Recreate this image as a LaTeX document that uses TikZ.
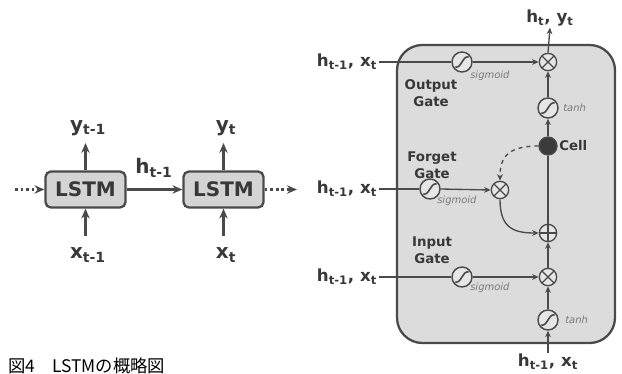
\documentclass[tikz,border=0pt]{standalone}
\usepackage{fontspec}
\usepackage{xcolor}
\usepackage{tikz}
\usetikzlibrary{arrows.meta,positioning}
\newfontfamily\dvfont{DejaVu Sans}
\newfontfamily\jpfont{Noto Sans CJK JP}
\definecolor{linec}{HTML}{4A4A4A}
\definecolor{cellbg}{HTML}{DCDCDC}
\definecolor{lstmbg}{HTML}{D4D4D4}
\definecolor{txtc}{HTML}{383838}
\definecolor{fnc}{HTML}{7A7A7A}
\definecolor{opbg}{HTML}{E6E6E6}
\tikzset{
  ar/.style={-{Stealth[length=2.6mm,width=2.2mm]},line width=1.7pt,linec},
  thinar/.style={-{Stealth[length=1.7mm,width=1.5mm]},line width=1pt,linec},
  thinln/.style={line width=1pt,linec},
  lstm/.style={draw=linec,line width=1.7pt,rounded corners=4pt,fill=lstmbg,
    minimum width=60pt,minimum height=27pt,inner sep=0pt,text=txtc,
    font=\dvfont\bfseries\fontsize{15}{17}\selectfont},
  bigl/.style={text=txtc,inner sep=1pt,font=\dvfont\bfseries\fontsize{15}{17}\selectfont},
  rowl/.style={text=txtc,inner sep=1pt,font=\dvfont\bfseries\fontsize{12.5}{14}\selectfont},
  gatel/.style={text=txtc,align=center,inner sep=0pt,font=\dvfont\bfseries\fontsize{10}{12.5}\selectfont},
  fnl/.style={text=fnc,inner sep=0pt,font=\dvfont\itshape\fontsize{7.5}{9}\selectfont},
  mul/.style={circle,draw=linec,line width=1pt,fill=opbg,minimum size=13pt,inner sep=0pt,
    path picture={\draw[linec,line width=0.9pt]
      (path picture bounding box.south west) -- (path picture bounding box.north east)
      (path picture bounding box.north west) -- (path picture bounding box.south east);}},
  addn/.style={circle,draw=linec,line width=1pt,fill=opbg,minimum size=13pt,inner sep=0pt,
    path picture={\draw[linec,line width=0.9pt]
      (path picture bounding box.south) -- (path picture bounding box.north)
      (path picture bounding box.west) -- (path picture bounding box.east);}},
  sig/.style={circle,draw=linec,line width=1.1pt,fill=opbg,minimum size=15pt,inner sep=0pt,
    path picture={\draw[linec,line width=1.2pt]
      ([xshift=-5pt,yshift=-4pt]path picture bounding box.center)
      .. controls +(5.5pt,0) and +(-5.5pt,0) ..
      ([xshift=5pt,yshift=4pt]path picture bounding box.center);}},
  cellc/.style={circle,draw=linec,line width=1pt,fill=linec!80!black,minimum size=13.5pt,inner sep=0pt}
}

\begin{document}
\begin{tikzpicture}[x=0.75pt,y=-0.75pt]
\useasboundingbox (0,0) rectangle (622,374);
% unrolled chain
\node[lstm] (l1) at (85.5,189.5) {LSTM};
\node[lstm] (l2) at (223.5,189.5) {LSTM};
\coordinate (din) at (15,189.5);
\coordinate (dout) at (297,189.5);
\node[bigl] (y1) at (88,128) {y\textsubscript{t-1}};
\node[bigl] (y2) at (226,128) {y\textsubscript{t}};
\node[bigl] (x1) at (88,255) {x\textsubscript{t-1}};
\node[bigl] (x2) at (226,255) {x\textsubscript{t}};
\node[bigl] (h1) at (154,168) {h\textsubscript{t-1}};
\draw[ar,dash pattern=on 2pt off 2.2pt] (din) -- (l1.west);
\draw[ar,dash pattern=on 2pt off 2.2pt] (l2.east) -- (dout);
\draw[ar] (l1.east) -- (l2.west);
\draw[ar] (l1.north) -- (85.5,143);
\draw[ar] (l2.north) -- (223.5,143);
\draw[ar] (85.5,236) -- (l1.south);
\draw[ar] (223.5,236) -- (l2.south);
% cell block
\draw[line width=1.7pt,linec,fill=cellbg,rounded corners=19pt] (397,45) rectangle (615,343);
\node[gatel] (go) at (431,93) {Output\\Gate};
\node[gatel] (gf) at (432,165) {Forget\\Gate};
\node[gatel] (gi) at (432,250) {Input\\Gate};
\node[rowl] (r1) at (347,62) {h\textsubscript{t-1}, x\textsubscript{t}};
\node[rowl] (r2) at (347,189) {h\textsubscript{t-1}, x\textsubscript{t}};
\node[rowl] (r3) at (347,277) {h\textsubscript{t-1}, x\textsubscript{t}};
\node[rowl] (top) at (550,18) {h\textsubscript{t}, y\textsubscript{t}};
\node[rowl] (bot) at (548,362) {h\textsubscript{t-1}, x\textsubscript{t}};
\node[sig] (so) at (462,62) {};
\node[sig] (sf) at (430,189) {};
\node[sig] (si) at (462,277) {};
\node[mul] (om) at (548,62) {};
\node[mul] (fm) at (500,190) {};
\node[mul] (im) at (548,277) {};
\node[addn] (pl) at (548,233) {};
\node[sig] (ta) at (548,108) {};
\node[sig] (tb) at (548,320) {};
\node[cellc] (cell) at (548,146) {};
\node[gatel,anchor=west] (cl) at (559,146) {Cell};
\node[fnl,anchor=west] (fo) at (470,76) {sigmoid};
\node[fnl,anchor=west] (ff) at (437,201) {sigmoid};
\node[fnl,anchor=west] (fi) at (470,288) {sigmoid};
\node[fnl,anchor=west] (fta) at (563,108) {tanh};
\node[fnl,anchor=west] (ftb) at (565,320) {tanh};
% connections
\draw[thinln] (r1.east) -- (so.west);
\draw[thinln] (r2.east) -- (sf.west);
\draw[thinln] (r3.east) -- (si.west);
\draw[thinar] (so.east) -- (om.west);
\draw[thinar] (sf.east) -- (fm.west);
\draw[thinar] (si.east) -- (im.west);
\draw[thinar] (bot.north) -- (tb.south);
\draw[thinar] (tb.north) -- (im.south);
\draw[thinar] (im.north) -- (pl.south);
\draw[thinln] (pl.north) -- (cell.south);
\draw[thinar] (cell.north) -- (ta.south);
\draw[thinar] (ta.north) -- (om.south);
\draw[thinar] (om.north) -- (top.south);
\draw[thinar,dashed] (cell.west) .. controls +(-32,0) and +(0,-22) .. (fm.north);
\draw[thinar] (fm.south) .. controls +(0,28) and +(-26,0) .. (pl.west);
% caption
\node[anchor=base west,inner sep=0pt,text=black,font=\jpfont\fontsize{13}{15}\selectfont] (cap) at (8,373) {図4\quad LSTMの概略図};
\end{tikzpicture}
\end{document}
